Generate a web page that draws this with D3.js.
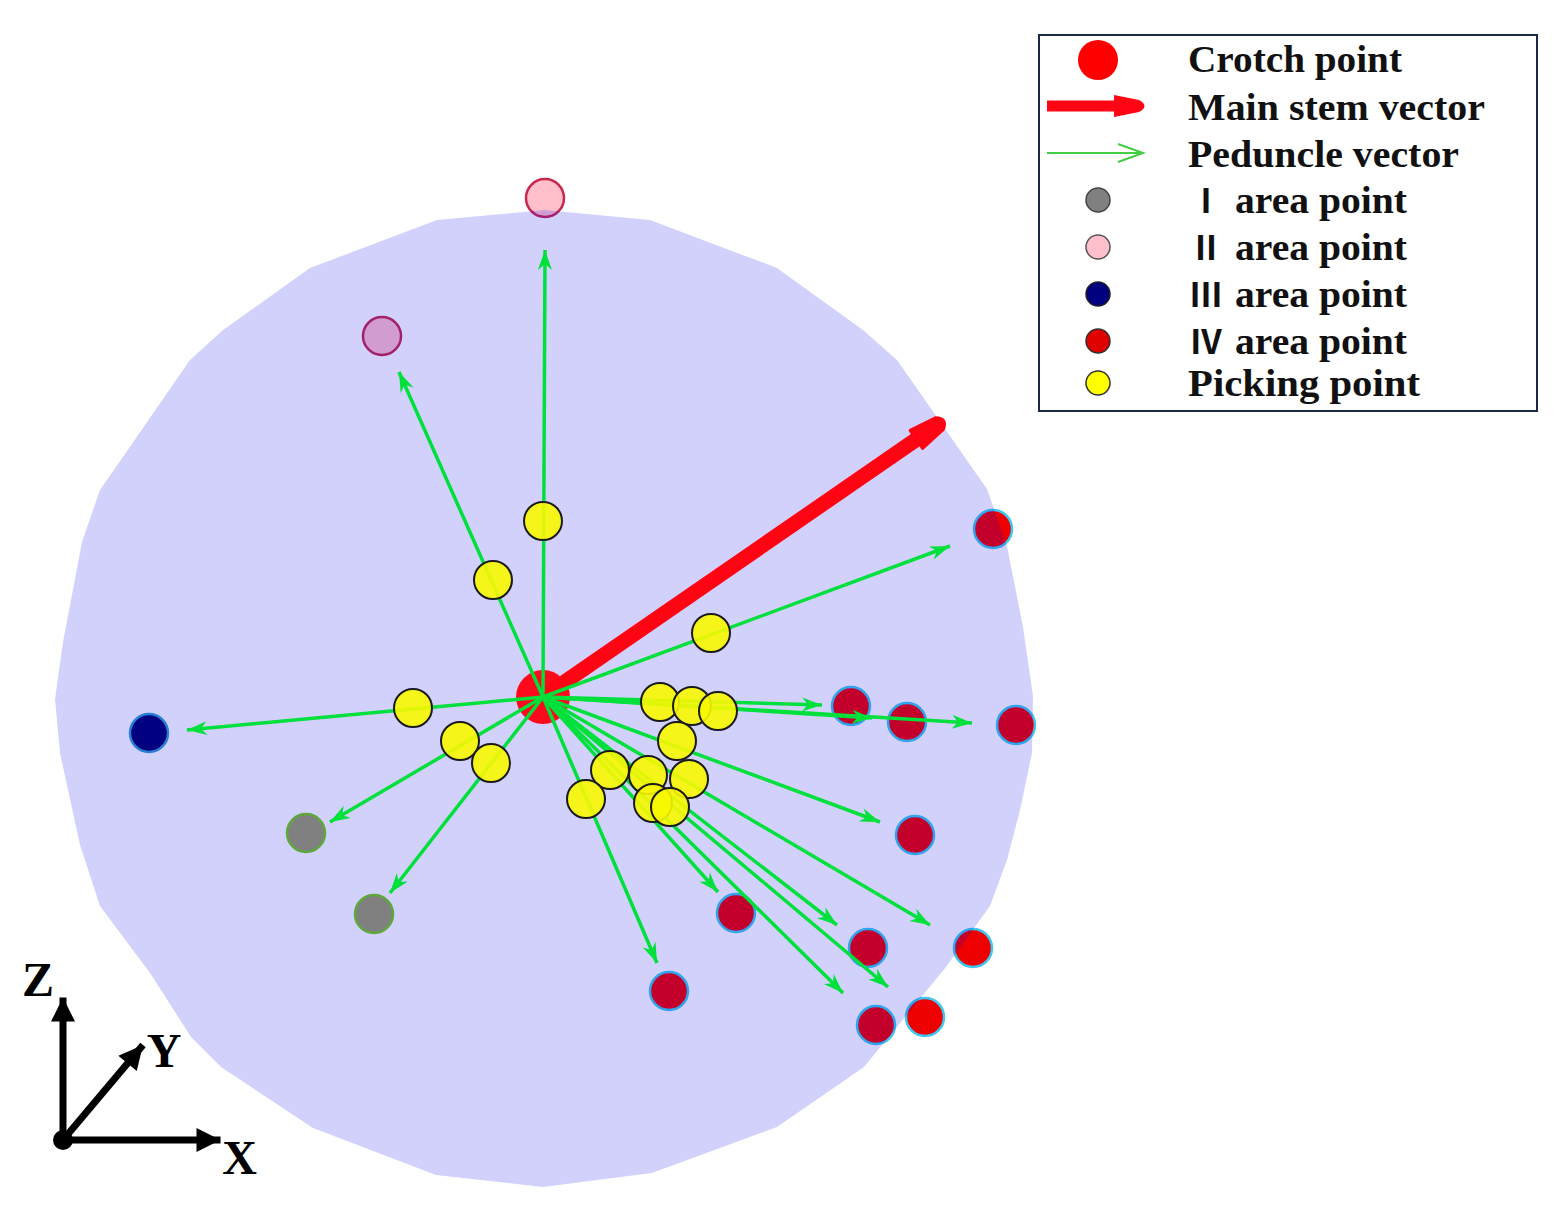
<!DOCTYPE html>
<html>
<head>
<meta charset="utf-8">
<script src="https://cdn.jsdelivr.net/npm/d3@7"></script>
<style>
  body { margin: 0; background: #fff; }
  svg { display: block; }
</style>
</head>
<body>
<svg id="chart" width="1562" height="1217"></svg>
<script>
// projected outline of the reachable space (data units)
var hullX = [0.04, 2.14, 4.68, 6.4, 7.08, 8.88, 9.28, 9.6, 9.8, 9.78, 9.54, 9.28, 8.94, 8.06, 6.42, 4.68, 2.18, 0,
             -2.14, -4.6, -6.44, -7.04, -7.86, -8.86, -9.26, -9.66, -9.76, -9.6, -9.22, -8.86, -7.06, -6.4, -4.66, -2.12];
var hullY = [9.74, 9.54, 8.58, 7.34, 6.74, 4.16, 3.02, 1.4, 0.02, -1.12, -2.26, -3.26, -4.18, -5.4, -7.4, -8.6, -9.52, -9.8,
             -9.56, -8.62, -7.4, -6.8, -5.52, -4.18, -2.96, -1.12, -0.04, 1.1, 3.1, 4.14, 6.74, 7.34, 8.58, 9.54];

var crotch = [0, 0];
var stemEnd = [8.06, 5.56];

// picking points, peduncle vector tips, area points
var pickX = [0, -1.0, 3.36, -2.6, -1.66, -1.04, 2.34, 2.98, 3.5, 2.68, 2.92, 2.1, 2.2, 2.54, 1.34, 0.86];
var pickY = [3.52, 2.34, 1.28, -0.22, -0.88, -1.32, -0.1, -0.18, -0.28, -0.88, -1.64, -1.56, -2.12, -2.2, -1.46, -2.04];
var tipX = [0.04, -2.88, 8.14, -7.12, -4.26, -3.06, 5.58, 6.58, 8.58, 6.74, 7.74, 5.88, 6.0, 6.9, 3.5, 2.28];
var tipY = [8.94, 6.5, 3.02, -0.66, -2.5, -3.92, -0.16, -0.42, -0.52, -2.5, -4.56, -4.56, -5.92, -5.8, -3.9, -5.32];
var areaX = [0.04, -3.22, 9.0, -7.88, -4.74, -3.38, 6.16, 7.28, 9.46, 7.44, 8.6, 6.5, 6.66, 7.64, 3.86, 2.52];
var areaY = [9.98, 7.22, 3.36, -0.72, -2.72, -4.34, -0.18, -0.5, -0.56, -2.76, -5.02, -5.02, -6.56, -6.4, -4.32, -5.88];
var areaClass = ["II", "II", "IV", "III", "I", "I", "IV", "IV", "IV", "IV", "IV", "IV", "IV", "IV", "IV", "IV"];

var legendLabels = ["Crotch point", "Main stem vector", "Peduncle vector", "area point", "area point", "area point", "area point", "Picking point"];
var legendNumerals = ["", "", "", "\u2160", "\u2161", "\u2162", "\u2163", ""];

// coordinate triad (data units)
var triadOrigin = [-9.6, -8.86];
var triadX = [3.15, 0];
var triadY = [1.6, 1.9];
var triadZ = [0, 2.85];

var areaFill = {"I": "#808080", "II": "#ffc0cb", "III": "#000080", "IV": "#ee0000"};
var areaEdge = {"I": "#5fa83c", "II": "#c8284e", "III": "#2a7fd4", "IV": "#3cc8f0"};
var behind = {"I": false, "II": true, "III": false, "IV": true};

var svg = d3.select("#chart");
var x = d3.scaleLinear().domain([-10, 10]).range([43, 1043]);
var y = d3.scaleLinear().domain([-10, 10]).range([1197, 197]);

var defs = svg.append("defs");
defs.append("marker")
    .attr("id", "pedHead")
    .attr("markerUnits", "userSpaceOnUse")
    .attr("markerWidth", 30).attr("markerHeight", 20)
    .attr("viewBox", "-24 -10 30 20")
    .attr("refX", 0).attr("refY", 0)
    .attr("orient", "auto")
    .append("path")
    .attr("d", "M0,0 L-20,-7 L-14,0 L-20,7 Z")
    .attr("fill", "#00e03c");

defs.append("marker")
    .attr("id", "triHead")
    .attr("markerUnits", "userSpaceOnUse")
    .attr("markerWidth", 40).attr("markerHeight", 40)
    .attr("viewBox", "-30 -20 40 40")
    .attr("refX", 0).attr("refY", 0)
    .attr("orient", "auto")
    .append("path")
    .attr("d", "M0,0 L-24,-12 L-24,12 Z")
    .attr("fill", "#000");

var idx = d3.range(pickX.length);

function drawArea(list){
  svg.append("g").selectAll("circle")
    .data(list)
    .enter()
    .append("circle")
    .attr("cx", function(i){ return x(areaX[i]); })
    .attr("cy", function(i){ return y(areaY[i]); })
    .attr("r", 19)
    .attr("fill", function(i){ return areaFill[areaClass[i]]; })
    .attr("stroke", function(i){ return areaEdge[areaClass[i]]; })
    .attr("stroke-width", 2.5);
}

// points behind the translucent hull
drawArea(idx.filter(function(i){ return behind[areaClass[i]]; }));

svg.append("path")
    .datum(d3.zip(hullX, hullY))
    .attr("d", d3.line().x(function(d){ return x(d[0]); }).y(function(d){ return y(d[1]); }).curve(d3.curveLinearClosed))
    .attr("fill", "#0000ee")
    .attr("fill-opacity", 0.18);

drawArea(idx.filter(function(i){ return !behind[areaClass[i]]; }));

// crotch point
svg.append("circle")
    .attr("cx", x(crotch[0])).attr("cy", y(crotch[1]))
    .attr("r", 27)
    .attr("fill", "#ff0a1c");

// main stem vector
var sx = x(crotch[0]), sy = y(crotch[1]);
var ex = x(stemEnd[0]), ey = y(stemEnd[1]);
var len = Math.sqrt((ex - sx) * (ex - sx) + (ey - sy) * (ey - sy));
var ang = Math.atan2(ey - sy, ex - sx) * 180 / Math.PI;
var stem = svg.append("g").attr("transform", "translate(" + sx + "," + sy + ") rotate(" + ang + ")");
stem.append("line")
    .attr("x1", 0).attr("y1", 0)
    .attr("x2", len - 30).attr("y2", 0)
    .attr("stroke", "#ff0514")
    .attr("stroke-width", 15)
    .attr("stroke-linecap", "round");
stem.append("path")
    .attr("d", "M" + (len - 36) + ",-11 L" + (len - 8) + ",-7 Q" + (len + 2) + ",0 " + (len - 8) + ",7 L" + (len - 36) + ",11 Z")
    .attr("fill", "#ff0514")
    .attr("stroke", "#ff0514")
    .attr("stroke-width", 3)
    .attr("stroke-linejoin", "round");

// peduncle vectors
svg.append("g").selectAll("line")
    .data(idx)
    .enter()
    .append("line")
    .attr("x1", x(crotch[0]))
    .attr("y1", y(crotch[1]))
    .attr("x2", function(i){ return x(tipX[i]); })
    .attr("y2", function(i){ return y(tipY[i]); })
    .attr("stroke", "#00e03c")
    .attr("stroke-width", 3.5)
    .attr("marker-end", "url(#pedHead)");

// picking points
svg.append("g").selectAll("circle")
    .data(idx)
    .enter()
    .append("circle")
    .attr("cx", function(i){ return x(pickX[i]); })
    .attr("cy", function(i){ return y(pickY[i]); })
    .attr("r", 19)
    .attr("fill", "#f8f800")
    .attr("fill-opacity", 0.9)
    .attr("stroke", "#1a1a1a")
    .attr("stroke-width", 2);

// coordinate triad
var tri = svg.append("g");
var ox = x(triadOrigin[0]), oy = y(triadOrigin[1]);
[triadX, triadY, triadZ].forEach(function(v){
  tri.append("line")
     .attr("x1", ox).attr("y1", oy)
     .attr("x2", x(triadOrigin[0] + v[0])).attr("y2", y(triadOrigin[1] + v[1]))
     .attr("stroke", "#000")
     .attr("stroke-width", 7)
     .attr("marker-end", "url(#triHead)");
});
tri.append("circle").attr("cx", ox).attr("cy", oy).attr("r", 10).attr("fill", "#000");
var triLab = [["X", triadX, 19, 34], ["Y", triadY, 21, 22], ["Z", triadZ, -25, -2]];
triLab.forEach(function(t){
  tri.append("text")
     .attr("x", x(triadOrigin[0] + t[1][0]) + t[2])
     .attr("y", y(triadOrigin[1] + t[1][1]) + t[3])
     .attr("text-anchor", "middle")
     .attr("font-family", "Liberation Serif, serif")
     .attr("font-weight", "bold")
     .attr("font-size", 48)
     .text(t[0]);
});

// legend
var lg = svg.append("g");
lg.append("rect")
  .attr("x", 1039).attr("y", 35)
  .attr("width", 498).attr("height", 376)
  .attr("fill", "#fff")
  .attr("stroke", "#1c2a4a")
  .attr("stroke-width", 2);

var rowY = [60, 106, 153, 200, 247, 294, 341, 383];
var rowBase = [72, 120, 167, 213, 260, 307, 354, 396];
var textW = [214, 297, 271, 172, 172, 172, 172, 232];

lg.append("circle").attr("cx", 1098).attr("cy", rowY[0]).attr("r", 20).attr("fill", "#ff0000");
lg.append("line")
  .attr("x1", 1047).attr("y1", rowY[1]).attr("x2", 1118).attr("y2", rowY[1])
  .attr("stroke", "#ff0514").attr("stroke-width", 11);
lg.append("path")
  .attr("d", "M1114," + (rowY[1] - 11) + " L1139," + (rowY[1] - 6) + " Q1150," + rowY[1] + " 1139," + (rowY[1] + 6) + " L1114," + (rowY[1] + 11) + " Z")
  .attr("fill", "#ff0514");
lg.append("line")
  .attr("x1", 1047).attr("y1", rowY[2]).attr("x2", 1143).attr("y2", rowY[2])
  .attr("stroke", "#44cc44").attr("stroke-width", 2);
lg.append("path")
  .attr("d", "M1118," + (rowY[2] - 9) + " L1143," + rowY[2] + " L1118," + (rowY[2] + 9))
  .attr("fill", "none").attr("stroke", "#44cc44").attr("stroke-width", 2);

var swatch = [["#808080", "#444"], ["#ffc0cb", "#555"], ["#000080", "#222"], ["#e00000", "#333"], ["#ffff00", "#333"]];
swatch.forEach(function(s, k){
  lg.append("circle")
    .attr("cx", 1098).attr("cy", rowY[k + 3]).attr("r", 12)
    .attr("fill", s[0]).attr("stroke", s[1]).attr("stroke-width", 1.5);
});

legendLabels.forEach(function(lab, k){
  var isArea = legendNumerals[k] !== "";
  lg.append("text")
    .attr("x", isArea ? 1235 : 1188)
    .attr("y", rowBase[k])
    .attr("font-family", "Liberation Serif, serif")
    .attr("font-weight", "bold")
    .attr("font-size", 37)
    .attr("textLength", textW[k])
    .attr("lengthAdjust", "spacingAndGlyphs")
    .attr("fill", "#111")
    .text(lab);
  if (isArea) {
    lg.append("text")
      .attr("x", 1206)
      .attr("y", rowBase[k])
      .attr("text-anchor", "middle")
      .attr("font-family", "Noto Sans CJK SC, sans-serif")
      .attr("font-weight", "bold")
      .attr("font-size", 33)
      .attr("fill", "#111")
      .text(legendNumerals[k]);
  }
});
</script>
</body>
</html>
